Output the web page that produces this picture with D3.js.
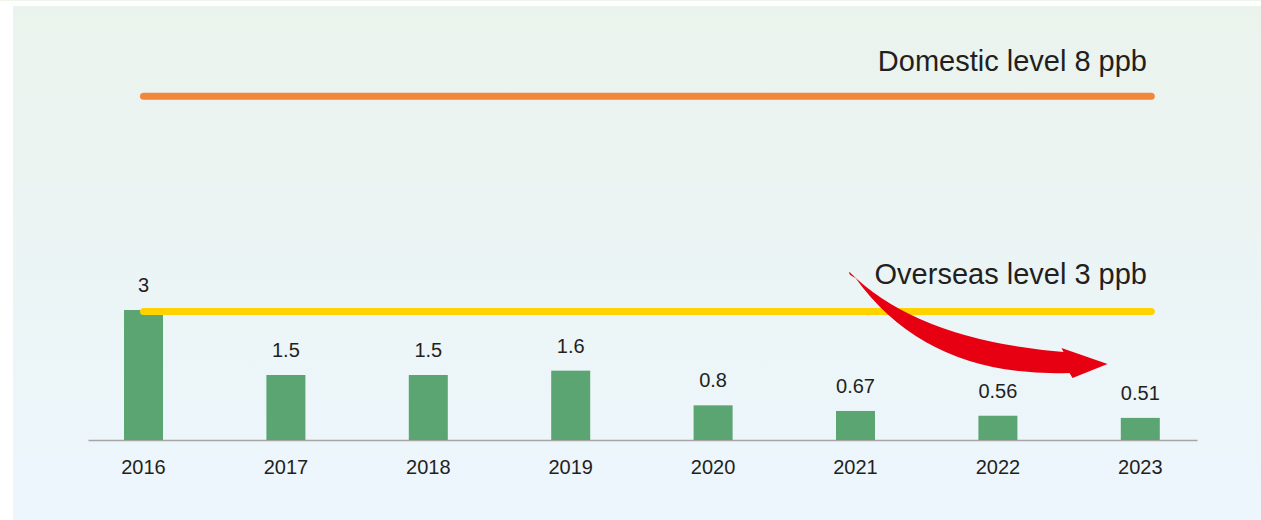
<!DOCTYPE html>
<html>
<head>
<meta charset="utf-8">
<script src="https://cdn.jsdelivr.net/npm/d3@7"></script>
<style>
  html, body { margin: 0; padding: 0; background: #ffffff; }
  svg { display: block; }
  text { font-family: "Liberation Sans", Arial, Helvetica, sans-serif; fill: #231f20; }
</style>
</head>
<body>
<svg id="chart" width="1261" height="520"></svg>
<script>
// Yearly measured level (ppb)
const years = ["2016", "2017", "2018", "2019", "2020", "2021", "2022", "2023"];
const values = [3, 1.5, 1.5, 1.6, 0.8, 0.67, 0.56, 0.51];
const valueLabels = ["3", "1.5", "1.5", "1.6", "0.8", "0.67", "0.56", "0.51"];

// Reference limits
const limitNames = ["Domestic level 8 ppb", "Overseas level 3 ppb"];
const limitValues = [8, 3];
const limitColors = ["#f0873a", "#ffd200"];

const W = 1261, H = 520;
const svg = d3.select("#chart");

// Panel background: soft green fading to soft blue
const defs = svg.append("defs");
const grad = defs.append("linearGradient")
  .attr("id", "panelGrad").attr("x1", 0).attr("y1", 0).attr("x2", 0).attr("y2", 1);
grad.append("stop").attr("offset", "0%").attr("stop-color", "#eaf3ec");
grad.append("stop").attr("offset", "100%").attr("stop-color", "#edf6fd");

svg.append("rect").attr("x", 0).attr("y", 0).attr("width", W).attr("height", 1)
  .attr("fill", "#eef5ea");
svg.append("rect").attr("x", 13).attr("y", 6).attr("width", W - 13).attr("height", H - 6)
  .attr("fill", "url(#panelGrad)");

// Scales
const baseY = 440;
const x = d3.scaleBand().domain(years).range([72.3, 72.3 + 142.4 * years.length]).paddingInner(0).paddingOuter(0);
const y = d3.scaleLinear().domain([0, 3]).range([baseY, 310]);
const barW = 39;
const cx = d => x(d) + x.bandwidth() / 2;

// Baseline axis
svg.append("line")
  .attr("x1", 88.5).attr("x2", 1197.5)
  .attr("y1", baseY + 0.5).attr("y2", baseY + 0.5)
  .attr("stroke", "#a6a6a6").attr("stroke-width", 1.3);

// Year labels
const xAxis = d3.axisBottom(x).tickSize(0).tickPadding(0);
const axisG = svg.append("g").attr("transform", `translate(0,${baseY})`).call(xAxis);
axisG.select(".domain").remove();
axisG.selectAll("text")
  .attr("y", 34).attr("dy", 0)
  .style("font-family", "'Liberation Sans', Arial, sans-serif")
  .style("font-size", "20px")
  .attr("fill", "#231f20");

// Bars
svg.append("g").selectAll("rect")
  .data(years)
  .join("rect")
  .attr("x", d => cx(d) - barW / 2)
  .attr("y", (d, i) => y(values[i]))
  .attr("width", barW)
  .attr("height", (d, i) => baseY - y(values[i]))
  .attr("fill", "#5ba572");

// Limit lines
const lineStart = cx(years[0]);
const lineEnd = cx(years[years.length - 1]) + 11;
limitValues.forEach((v, i) => {
  svg.append("line")
    .attr("x1", lineStart).attr("x2", lineEnd)
    .attr("y1", y(v) + (i === 0 ? 3 : 1.5)).attr("y2", y(v) + (i === 0 ? 3 : 1.5))
    .attr("stroke", limitColors[i])
    .attr("stroke-width", 7)
    .attr("stroke-linecap", "round");
});

// Value labels
svg.append("g").selectAll("text")
  .data(years)
  .join("text")
  .attr("x", d => cx(d))
  .attr("y", (d, i) => y(values[i]) - 18)
  .attr("text-anchor", "middle")
  .style("font-size", "20px")
  .text((d, i) => valueLabels[i]);

// Downward trend arrow
const ax = cx("2021"), ay = y(3);
const arrowPath = [
  `M${ax - 6},${ay - 38}`,
  `Q${ax + 62},${ay + 30} ${ax + 208},${ay + 42}`,
  `L${ax + 206},${ay + 38}`,
  `L${ax + 252},${ay + 54}`,
  `L${ax + 217},${ay + 68}`,
  `L${ax + 214},${ay + 63}`,
  `Q${ax + 72},${ay + 68} ${ax},${ay - 32}`,
  `Q${ax - 8},${ay - 36} ${ax - 6},${ay - 38}`,
  "Z"
].join(" ");
svg.append("path").attr("d", arrowPath).attr("fill", "#e60012");

// Limit captions
const captionY = [71, 284];
limitNames.forEach((t, i) => {
  svg.append("text")
    .attr("x", 1147)
    .attr("y", captionY[i])
    .attr("text-anchor", "end")
    .style("font-size", "29px")
    .text(t);
});
</script>
</body>
</html>
